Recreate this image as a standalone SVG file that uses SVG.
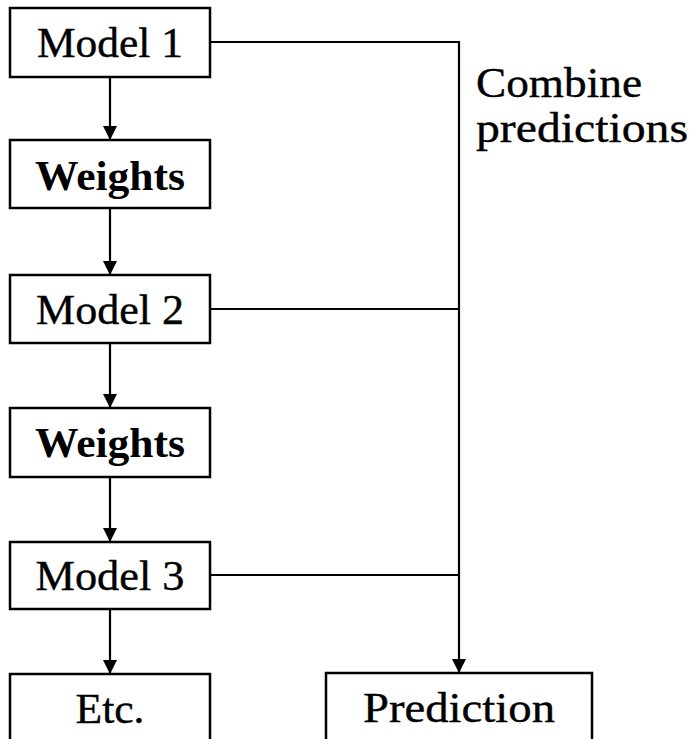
<svg xmlns="http://www.w3.org/2000/svg" width="693" height="739" viewBox="0 0 693 739">
<style>
  .box { fill: #fff; stroke: #000; stroke-width: 2.5; }
  .lbl { font-family: "Liberation Serif", "Times New Roman", serif; font-size: 43px; fill: #000; text-anchor: middle; stroke: #000; stroke-width: 0.4; }
  .bold { font-weight: bold; stroke-width: 0; }
  .note { font-family: "Liberation Serif", "Times New Roman", serif; font-size: 43px; fill: #000; stroke: #000; stroke-width: 0.4; }
  .ln { fill: none; stroke: #000; stroke-width: 2.2; }
</style>
<defs>
  <marker id="arr" markerUnits="userSpaceOnUse" markerWidth="16" markerHeight="14" refX="14" refY="7" orient="auto">
    <path d="M0,0 L14,7 L0,14 Z" fill="#000"/>
  </marker>
</defs>
<rect width="693" height="739" fill="#fff"/>
<g id="connectors">
  <line class="ln" x1="110" y1="77" x2="110" y2="140" marker-end="url(#arr)"/>
  <line class="ln" x1="110" y1="208" x2="110" y2="275" marker-end="url(#arr)"/>
  <line class="ln" x1="110" y1="343" x2="110" y2="408" marker-end="url(#arr)"/>
  <line class="ln" x1="110" y1="477" x2="110" y2="542" marker-end="url(#arr)"/>
  <line class="ln" x1="110" y1="609" x2="110" y2="674" marker-end="url(#arr)"/>
  <polyline class="ln" points="210,42 459,42 459,673" marker-end="url(#arr)"/>
  <line class="ln" x1="210" y1="309" x2="459" y2="309"/>
  <line class="ln" x1="210" y1="575" x2="459" y2="575"/>
</g>
<g id="model1">
  <rect class="box" x="10" y="8" width="200" height="69"/>
  <text class="lbl" x="110" y="57" textLength="146" lengthAdjust="spacingAndGlyphs">Model 1</text>
</g>
<g id="weights1">
  <rect class="box" x="10" y="140" width="200" height="68"/>
  <text class="lbl bold" x="110" y="190" textLength="150" lengthAdjust="spacingAndGlyphs">Weights</text>
</g>
<g id="model2">
  <rect class="box" x="10" y="275" width="200" height="68"/>
  <text class="lbl" x="110" y="324" textLength="148" lengthAdjust="spacingAndGlyphs">Model 2</text>
</g>
<g id="weights2">
  <rect class="box" x="10" y="408" width="200" height="69"/>
  <text class="lbl bold" x="110" y="457" textLength="150" lengthAdjust="spacingAndGlyphs">Weights</text>
</g>
<g id="model3">
  <rect class="box" x="10" y="542" width="200" height="67"/>
  <text class="lbl" x="110" y="590" textLength="149" lengthAdjust="spacingAndGlyphs">Model 3</text>
</g>
<g id="etc">
  <rect class="box" x="10" y="674" width="200" height="80"/>
  <text class="lbl" x="110" y="723" textLength="69" lengthAdjust="spacingAndGlyphs">Etc.</text>
</g>
<g id="prediction">
  <rect class="box" x="326" y="673" width="266" height="80"/>
  <text class="lbl" x="459" y="722" textLength="192" lengthAdjust="spacingAndGlyphs">Prediction</text>
</g>
<g id="combine-label">
  <text class="note" x="476" y="97" textLength="166" lengthAdjust="spacingAndGlyphs">Combine</text>
  <text class="note" x="476" y="142" textLength="212" lengthAdjust="spacingAndGlyphs">predictions</text>
</g>
</svg>
